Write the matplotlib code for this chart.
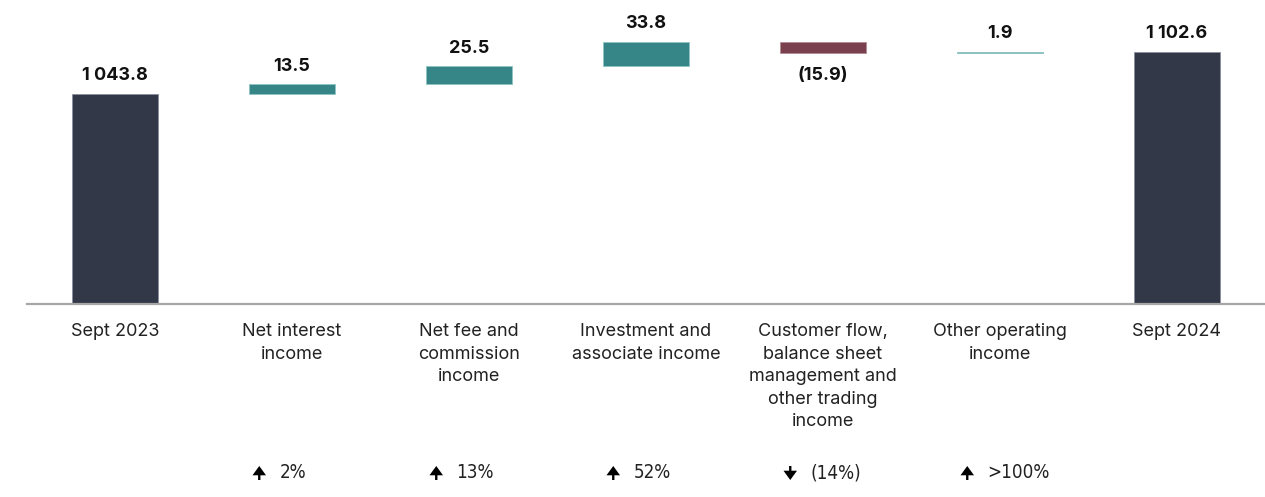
import matplotlib
matplotlib.use("Agg")
import matplotlib.pyplot as plt
import matplotlib.transforms as mtransforms
import numpy as np

categories = ["Sept 2023", "Net interest\nincome", "Net fee and\ncommission\nincome",
              "Investment and\nassociate income",
              "Customer flow,\nbalance sheet\nmanagement and\nother trading\nincome",
              "Other operating\nincome", "Sept 2024"]
start_total = 1043.8
changes = [13.5, 25.5, 33.8, -15.9, 1.9]
end_total = 1102.6
value_labels = ["1 043.8", "13.5", "25.5", "33.8", "(15.9)", "1.9", "1 102.6"]
pct_labels = ["2%", "13%", "52%", "(14%)", ">100%"]

navy = "#333849"
teal = "#368587"
maroon = "#7b404d"

fig = plt.figure(figsize=(12.65, 4.97), dpi=100)
ax = fig.add_axes([26.5 / 1265, (497 - 304) / 497, 1239 / 1265, 304 / 497])

ymin = 749.0
x = np.arange(len(categories))
width = 0.486

# totals
ax.bar([0, 6], [start_total - ymin, end_total - ymin], bottom=ymin, width=width,
       color=navy, edgecolor="#8a8f9c", linewidth=0.6, zorder=2)

# floating change bars
run = start_total
for i, c in enumerate(changes, start=1):
    col = teal if c >= 0 else maroon
    edge = "#8fc4c4" if c >= 0 else "#b08a92"
    ax.bar(i, c, bottom=run, width=width, color=col, edgecolor=edge,
           linewidth=0.6, zorder=2)
    run += c

ax.set_xlim(-0.5, 6.5)
ax.set_ylim(ymin, ymin + 304 / 0.714)
for s in ["top", "right", "left"]:
    ax.spines[s].set_visible(False)
ax.spines["bottom"].set_color("#a6a6a6")
ax.spines["bottom"].set_linewidth(1.6)
ax.set_yticks([])
ax.set_xticks(x)
ax.set_xticklabels(categories, fontsize=13, family=["Inter", "DejaVu Sans"],
                   color="#222222", linespacing=1.42, va="top")
ax.tick_params(axis="x", length=0, pad=14)

# value labels
tops = [start_total]
run = start_total
for c in changes:
    tops.append(max(run, run + c))
    run += c
tops.append(end_total)
run = start_total
for i, lab in enumerate(value_labels):
    if 1 <= i <= 5 and changes[i - 1] < 0:
        bottom = run + changes[i - 1]
        ax.annotate(lab, (i, bottom), xytext=(0, -10), textcoords="offset points",
                    ha="center", va="top", fontsize=13, fontweight="bold",
                    family=["Inter", "DejaVu Sans"], color="#111111")
    else:
        ax.annotate(lab, (i, tops[i]), xytext=(0, 9.4), textcoords="offset points",
                    ha="center", va="baseline", fontsize=13, fontweight="bold",
                    family=["Inter", "DejaVu Sans"], color="#111111")
    if 1 <= i <= 5:
        run += changes[i - 1]

# percentage change row
trans = mtransforms.blended_transform_factory(ax.transData, fig.transFigure)
ypct = (497 - 473) / 497
half = 7.0 / 497
for i, (c, lab) in enumerate(zip(changes, pct_labels), start=1):
    ax.text(i - 0.07, ypct, lab, transform=trans, ha="left", va="center",
            fontsize=13.5, family="DejaVu Sans", fontstretch="condensed",
            fontweight="light", color="#222222")
    head = ypct + half if c >= 0 else ypct - half
    tail = ypct - half if c >= 0 else ypct + half
    ax.annotate("", xy=(i - 0.185, head), xycoords=trans,
                xytext=(i - 0.185, tail), textcoords=trans,
                arrowprops=dict(arrowstyle="-|>,head_width=0.4,head_length=0.55",
                                lw=1.7, color="black", mutation_scale=8,
                                shrinkA=0, shrinkB=0, joinstyle="miter",
                                capstyle="butt"))

fig.savefig("out.png", dpi=100)
